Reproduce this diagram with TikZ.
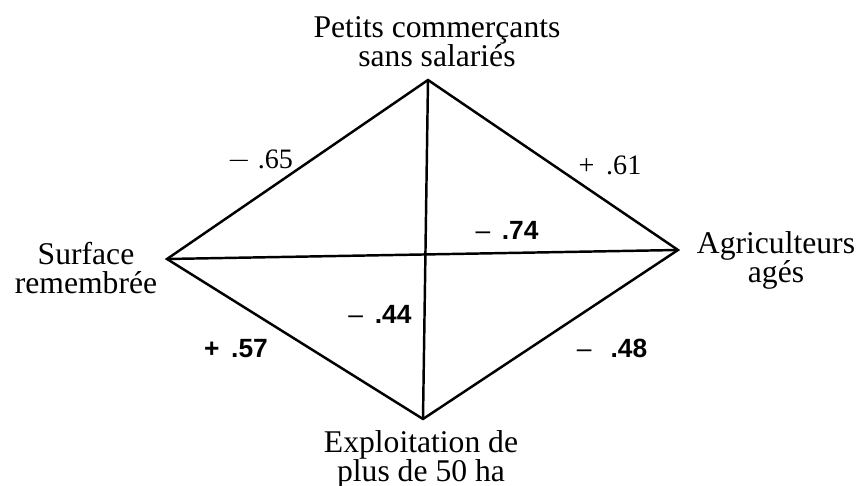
\documentclass[tikz,border=0pt]{standalone}
\usepackage{fontspec}
\setmainfont{Liberation Serif}
\newfontfamily\numsans{Liberation Sans}
\usepackage{tikz}

\begin{document}
\begin{tikzpicture}[x=0.02cm, y=-0.02cm,
    edge/.style={line width=1.4pt, line join=miter},
    lbl/.style={align=center, font=\fontsize{18}{16.5}\selectfont, inner sep=0pt},
    coef/.style={font=\fontsize{16}{16}\selectfont, inner sep=0pt},
    coefsf/.style={font=\numsans\bfseries\fontsize{15}{15}\selectfont, inner sep=0pt}]

    \useasboundingbox (0,0) rectangle (856,486);

    % corners of the diamond
    \coordinate (top) at (428,80);
    \coordinate (left) at (167,259);
    \coordinate (right) at (678,250);
    \coordinate (bottom) at (423,419);

    \node[lbl] (petits) at (437,42) {Petits commerçants\\sans salariés};
    \node[lbl] (surface) at (86,268) {Surface\\remembrée};
    \node[lbl] (agri) at (776,260) {Agriculteurs\\agés};
    \node[lbl] (exploit) at (421,459) {Exploitation de\\plus de 50 ha};

    \draw[edge] (top) -- (left) -- (bottom) -- (right) -- cycle;
    \draw[edge] (top) -- (bottom);
    \draw[edge] (left) -- (right);

    % correlations
    \node[coef] (tl) at (260,160) {$-$\ .65};
    \node[coef] (tr) at (610,165) {+\ \,.61};
    \node[coefsf] (lr) at (507,230) {{\mdseries –}\ \,.74};
    \node[coefsf] (tb) at (380,314) {{\mdseries –}\ \,.44};
    \node[coefsf] (lb) at (236,349) {+\ \,.57};
    \node[coefsf] (rb) at (612,348) {{\mdseries –}\ \ \,.48};
\end{tikzpicture}
\end{document}
